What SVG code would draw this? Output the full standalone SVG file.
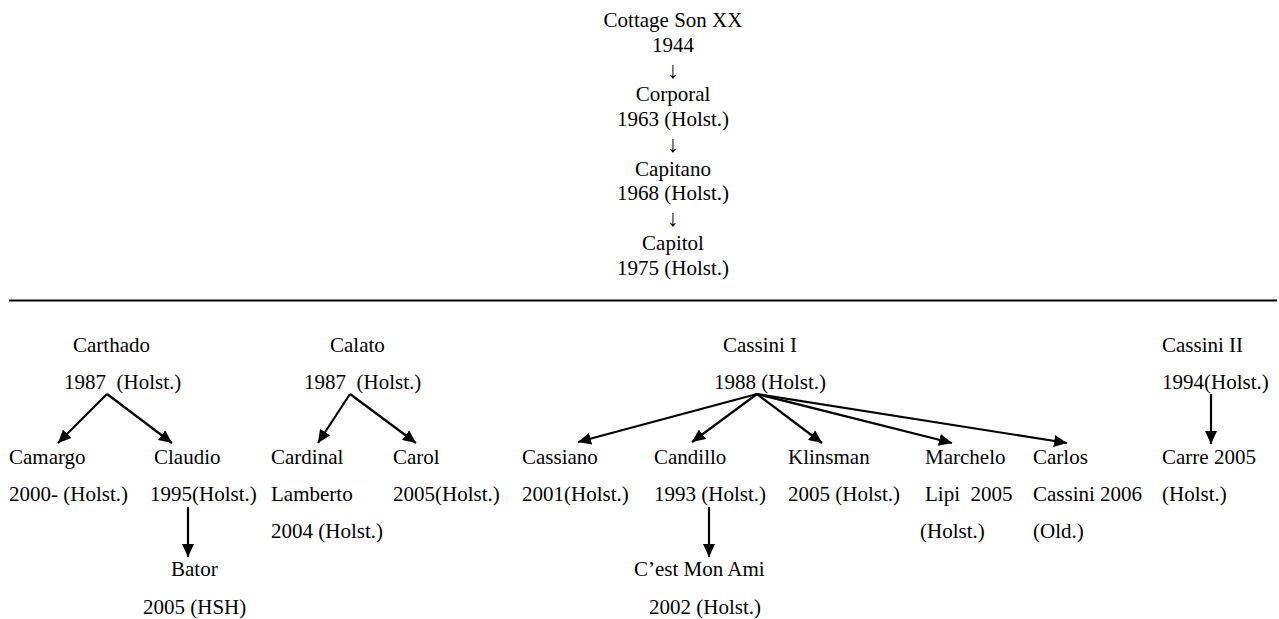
<svg xmlns="http://www.w3.org/2000/svg" width="1279" height="619" viewBox="0 0 1279 619">
<defs>
<marker id="ah" markerUnits="userSpaceOnUse" markerWidth="14" markerHeight="12" refX="13" refY="6" orient="auto">
<path d="M0,0 L13,6 L0,12 Z" fill="#000"/>
</marker>
<style>
text{font-family:"Liberation Serif","Times New Roman",serif;font-size:21px;fill:#000;white-space:pre}
.c{text-anchor:middle}
.a{font-size:23px}
.e{stroke:#000;stroke-width:2.2;fill:none;marker-end:url(#ah)}
</style>
</defs>
<rect width="1279" height="619" fill="#fff"/>
<g id="lineage">
<text class="c" x="673" y="27">Cottage Son XX</text>
<text class="c" x="673" y="52">1944</text>
<text class="c a" x="673" y="78">↓</text>
<text class="c" x="673" y="101">Corporal</text>
<text class="c" x="673" y="126">1963 (Holst.)</text>
<text class="c a" x="673" y="152">↓</text>
<text class="c" x="673" y="176">Capitano</text>
<text class="c" x="673" y="200">1968 (Holst.)</text>
<text class="c a" x="673" y="226">↓</text>
<text class="c" x="673" y="250">Capitol</text>
<text class="c" x="673" y="275">1975 (Holst.)</text>
</g>
<line x1="9" y1="300.5" x2="1277" y2="300.5" stroke="#000" stroke-width="2.2"/>
<g id="connectors">
<line class="e" x1="107" y1="394" x2="58" y2="443"/>
<line class="e" x1="107" y1="394" x2="172" y2="443"/>
<line class="e" x1="188" y1="507" x2="188" y2="557"/>
<line class="e" x1="350" y1="394" x2="318" y2="443"/>
<line class="e" x1="350" y1="394" x2="416" y2="443"/>
<line class="e" x1="757" y1="394" x2="578" y2="442"/>
<line class="e" x1="757" y1="394" x2="692" y2="442"/>
<line class="e" x1="757" y1="394" x2="822" y2="443"/>
<line class="e" x1="757" y1="394" x2="952" y2="443"/>
<line class="e" x1="757" y1="394" x2="1067" y2="443"/>
<line class="e" x1="709" y1="507" x2="709" y2="557"/>
<line class="e" x1="1211" y1="394" x2="1211" y2="444"/>
</g>
<g id="carthado"><text x="73" y="352">Carthado</text><text x="64" y="389">1987  (Holst.)</text></g>
<g id="calato"><text x="330" y="352">Calato</text><text x="304" y="389">1987  (Holst.)</text></g>
<g id="cassini1"><text x="723" y="352">Cassini I</text><text x="714" y="389">1988 (Holst.)</text></g>
<g id="cassini2"><text x="1162" y="352">Cassini II</text><text x="1162" y="389">1994(Holst.)</text></g>
<g id="camargo"><text x="9" y="464">Camargo</text><text x="9" y="501">2000- (Holst.)</text></g>
<g id="claudio"><text x="154" y="464">Claudio</text><text x="150" y="501">1995(Holst.)</text></g>
<g id="bator"><text x="171" y="576">Bator</text><text x="143" y="614">2005 (HSH)</text></g>
<g id="cardinal"><text x="271" y="464">Cardinal</text><text x="271" y="501">Lamberto</text><text x="271" y="538">2004 (Holst.)</text></g>
<g id="carol"><text x="393" y="464">Carol</text><text x="393" y="501">2005(Holst.)</text></g>
<g id="cassiano"><text x="522" y="464">Cassiano</text><text x="522" y="501">2001(Holst.)</text></g>
<g id="candillo"><text x="654" y="464">Candillo</text><text x="654" y="501">1993 (Holst.)</text></g>
<g id="cestmonami"><text x="634" y="576">C’est Mon Ami</text><text x="649" y="614">2002 (Holst.)</text></g>
<g id="klinsman"><text x="788" y="464">Klinsman</text><text x="788" y="501">2005 (Holst.)</text></g>
<g id="marchelo"><text x="925" y="464">Marchelo</text><text x="925" y="501">Lipi  2005</text><text x="920" y="538">(Holst.)</text></g>
<g id="carlos"><text x="1033" y="464">Carlos</text><text x="1033" y="501">Cassini 2006</text><text x="1033" y="538">(Old.)</text></g>
<g id="carre"><text x="1162" y="464">Carre 2005</text><text x="1162" y="501">(Holst.)</text></g>
</svg>
